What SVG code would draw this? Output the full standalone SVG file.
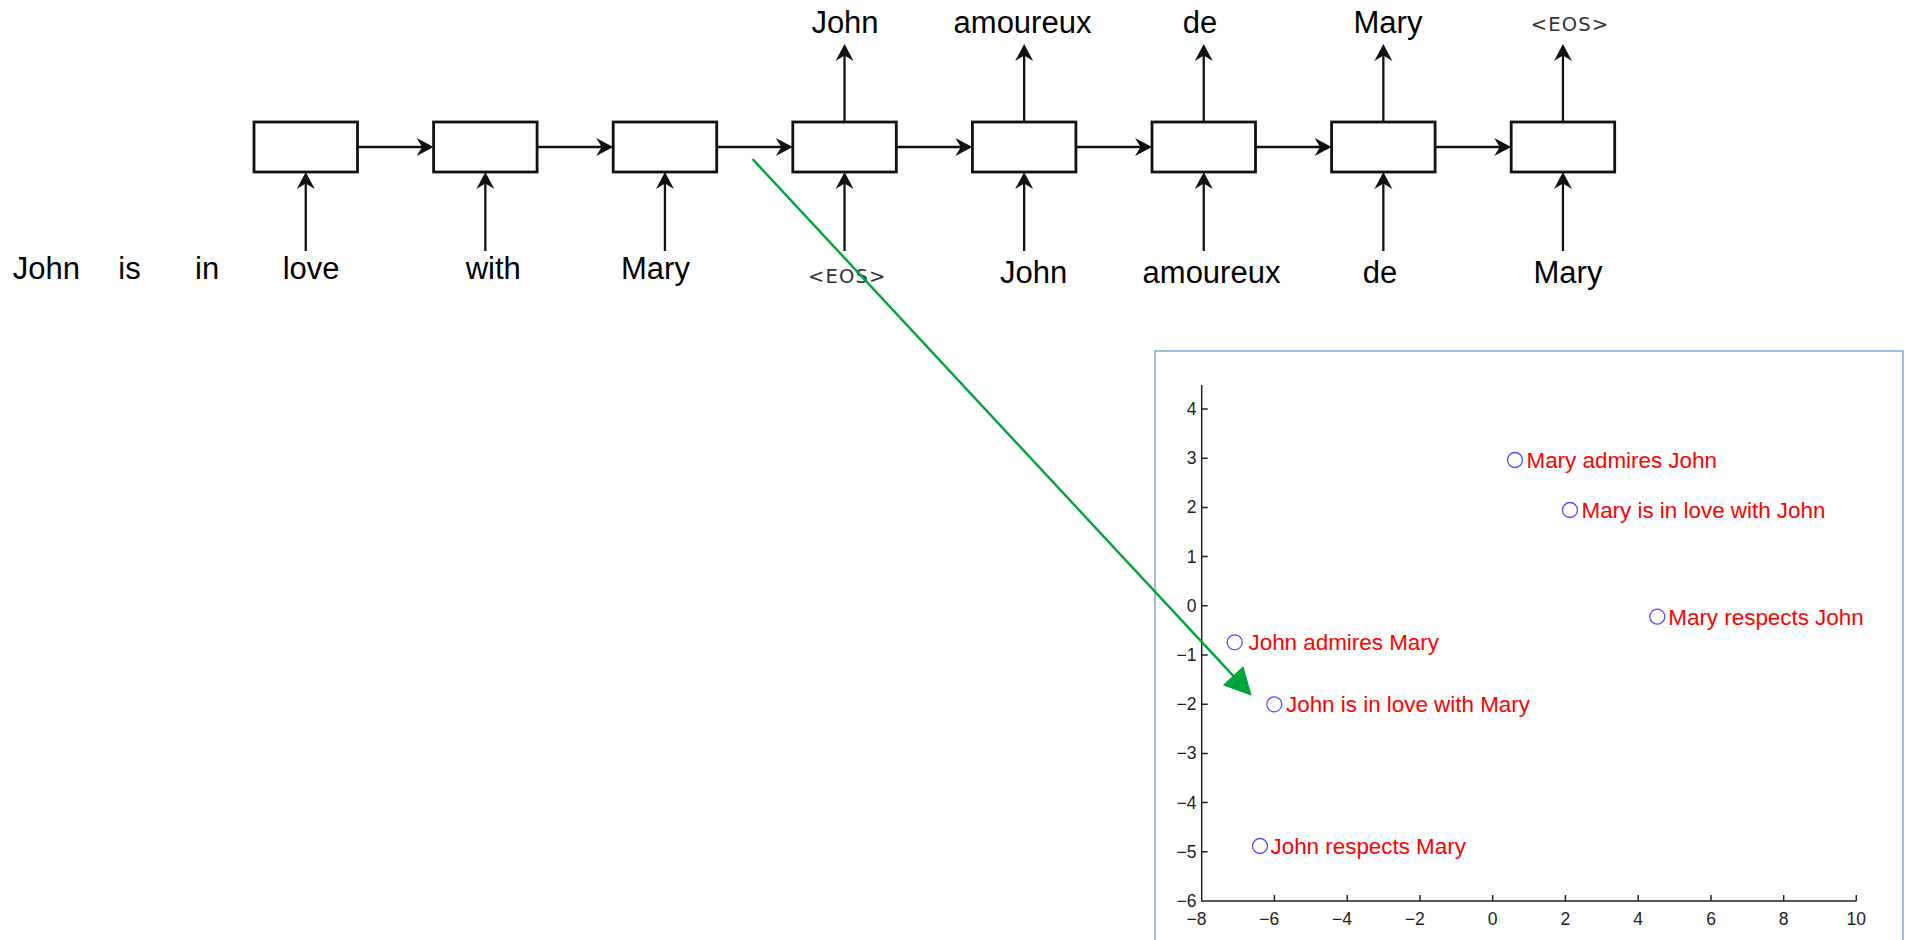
<svg xmlns="http://www.w3.org/2000/svg" width="1909" height="940" viewBox="0 0 1909 940">
<style>
.box{fill:#fff;stroke:#111;stroke-width:2.8}
.arr{stroke:#111;stroke-width:2.3;fill:none;marker-end:url(#ah)}
.w{font-family:"Liberation Sans",Arial,sans-serif;font-size:31px;fill:#000}
.eos{font-family:"DejaVu Sans",sans-serif;font-size:19.5px;fill:#333;letter-spacing:1.2px}
.ax{stroke:#222;stroke-width:1.5;fill:none}
.tk{font-family:"Liberation Sans",Arial,sans-serif;font-size:17.5px;fill:#222}
.pt{fill:none;stroke:#5050ff;stroke-width:1.3}
.pl{font-family:"Liberation Sans",Arial,sans-serif;font-size:22.4px;fill:#ff0000}
</style>
<defs>
<marker id="ah" markerUnits="userSpaceOnUse" viewBox="-18 -10 19 20" markerWidth="19" markerHeight="20" refX="-3" refY="0" orient="auto">
<path d="M0,0 L-17,-9 L-11.5,0 L-17,9 Z" fill="#111"/>
</marker>
<marker id="gah" markerUnits="userSpaceOnUse" viewBox="-28 -15 29 30" markerWidth="29" markerHeight="30" refX="-25" refY="0" orient="auto">
<path d="M0,0 L-27.4,-14 L-27.4,14 Z" fill="#00a33c"/>
</marker>
</defs>
<rect width="1909" height="940" fill="#fff"/>

<g id="plot">
<rect x="1155" y="351" width="748" height="620" fill="#fff" stroke="#85a3d9" stroke-width="1.5"/>
<path class="ax" d="M1201.7,385 V901 H1856.3"/>
<path class="ax" d="M1201.7,409 h6 M1201.7,458.2 h6 M1201.7,507.4 h6 M1201.7,556.6 h6 M1201.7,605.8 h6 M1201.7,655 h6 M1201.7,704.2 h6 M1201.7,753.4 h6 M1201.7,802.6 h6 M1201.7,851.8 h6"/>
<path class="ax" d="M1274.4,901 v-6 M1347.2,901 v-6 M1420,901 v-6 M1492.7,901 v-6 M1565.4,901 v-6 M1638.2,901 v-6 M1711,901 v-6 M1783.7,901 v-6 M1856.3,901 v-6"/>
<g class="tk" text-anchor="end">
<text x="1196.5" y="415">4</text>
<text x="1196.5" y="464.2">3</text>
<text x="1196.5" y="513.4">2</text>
<text x="1196.5" y="562.6">1</text>
<text x="1196.5" y="611.8">0</text>
<text x="1196.5" y="661">−1</text>
<text x="1196.5" y="710.2">−2</text>
<text x="1196.5" y="759.4">−3</text>
<text x="1196.5" y="808.6">−4</text>
<text x="1196.5" y="857.8">−5</text>
<text x="1196.5" y="907">−6</text>
<text x="1206.5" y="925">−8</text>
<text x="1279.2" y="925">−6</text>
<text x="1352" y="925">−4</text>
<text x="1424.8" y="925">−2</text>
</g>
<g class="tk" text-anchor="middle">
<text x="1492.7" y="925">0</text>
<text x="1565.4" y="925">2</text>
<text x="1638.2" y="925">4</text>
<text x="1711" y="925">6</text>
<text x="1783.7" y="925">8</text>
<text x="1856.3" y="925">10</text>
</g>
</g>

<g id="pt-john-admires-mary"><circle class="pt" cx="1234.7" cy="642.3" r="7.5"/><text class="pl" x="1248.5" y="650.3">John admires Mary</text></g>
<g id="pt-mary-admires-john"><circle class="pt" cx="1515" cy="460" r="7.5"/><text class="pl" x="1526.5" y="468">Mary admires John</text></g>
<g id="pt-mary-love-john"><circle class="pt" cx="1570" cy="510" r="7.5"/><text class="pl" x="1581.5" y="518">Mary is in love with John</text></g>
<g id="pt-mary-respects-john"><circle class="pt" cx="1657.3" cy="616.7" r="7.5"/><text class="pl" x="1668.3" y="624.7">Mary respects John</text></g>
<g id="pt-john-love-mary"><circle class="pt" cx="1274.3" cy="704.3" r="7.5"/><text class="pl" x="1286" y="712.3">John is in love with Mary</text></g>
<g id="pt-john-respects-mary"><circle class="pt" cx="1260" cy="846" r="7.5"/><text class="pl" x="1270.5" y="854">John respects Mary</text></g>

<g id="words-left" class="w">
<text x="12.7" y="279">John</text>
<text x="118.3" y="279">is</text>
<text x="195" y="279">in</text>
<text x="282.7" y="279">love</text>
<text x="465.7" y="279">with</text>
<text x="621" y="279">Mary</text>
</g>

<g id="cell1"><rect class="box" x="254" y="122" width="103.5" height="50"/></g>
<g id="cell2"><rect class="box" x="433.6" y="122" width="103.5" height="50"/></g>
<g id="cell3"><rect class="box" x="613.2" y="122" width="103.5" height="50"/></g>
<g id="cell4"><rect class="box" x="792.8" y="122" width="103.5" height="50"/><text class="eos" x="847.3" y="283" text-anchor="middle">&lt;EOS&gt;</text><text class="w" x="845" y="33.3" text-anchor="middle">John</text></g>
<g id="cell5"><rect class="box" x="972.4" y="122" width="103.5" height="50"/><text class="w" x="1033.7" y="283.3" text-anchor="middle">John</text><text class="w" x="1022.5" y="33.3" text-anchor="middle">amoureux</text></g>
<g id="cell6"><rect class="box" x="1152" y="122" width="103.5" height="50"/><text class="w" x="1211.5" y="283.3" text-anchor="middle">amoureux</text><text class="w" x="1200" y="33.3" text-anchor="middle">de</text></g>
<g id="cell7"><rect class="box" x="1331.6" y="122" width="103.5" height="50"/><text class="w" x="1380" y="283.3" text-anchor="middle">de</text><text class="w" x="1388" y="33.3" text-anchor="middle">Mary</text></g>
<g id="cell8"><rect class="box" x="1511.2" y="122" width="103.5" height="50"/><text class="w" x="1568" y="283.3" text-anchor="middle">Mary</text><text class="eos" x="1570" y="31" text-anchor="middle">&lt;EOS&gt;</text></g>

<g id="connectors">
<line class="arr" x1="357.5" y1="147" x2="430.6" y2="147"/>
<line class="arr" x1="537.1" y1="147" x2="610.2" y2="147"/>
<line class="arr" x1="716.7" y1="147" x2="789.8" y2="147"/>
<line class="arr" x1="896.3" y1="147" x2="969.4" y2="147"/>
<line class="arr" x1="1075.9" y1="147" x2="1149" y2="147"/>
<line class="arr" x1="1255.5" y1="147" x2="1328.6" y2="147"/>
<line class="arr" x1="1435.1" y1="147" x2="1508.2" y2="147"/>
<line class="arr" x1="305.75" y1="251" x2="305.75" y2="175"/>
<line class="arr" x1="485.35" y1="251" x2="485.35" y2="175"/>
<line class="arr" x1="664.95" y1="251" x2="664.95" y2="175"/>
<line class="arr" x1="844.55" y1="251" x2="844.55" y2="175"/>
<line class="arr" x1="1024.15" y1="251" x2="1024.15" y2="175"/>
<line class="arr" x1="1203.75" y1="251" x2="1203.75" y2="175"/>
<line class="arr" x1="1383.35" y1="251" x2="1383.35" y2="175"/>
<line class="arr" x1="1562.95" y1="251" x2="1562.95" y2="175"/>
<line class="arr" x1="844.55" y1="122" x2="844.55" y2="47"/>
<line class="arr" x1="1024.15" y1="122" x2="1024.15" y2="47"/>
<line class="arr" x1="1203.75" y1="122" x2="1203.75" y2="47"/>
<line class="arr" x1="1383.35" y1="122" x2="1383.35" y2="47"/>
<line class="arr" x1="1562.95" y1="122" x2="1562.95" y2="47"/>
<line x1="752.5" y1="159" x2="1234.7" y2="677.4" stroke="#00a33c" stroke-width="2.4" marker-end="url(#gah)"/>
</g>
</svg>
